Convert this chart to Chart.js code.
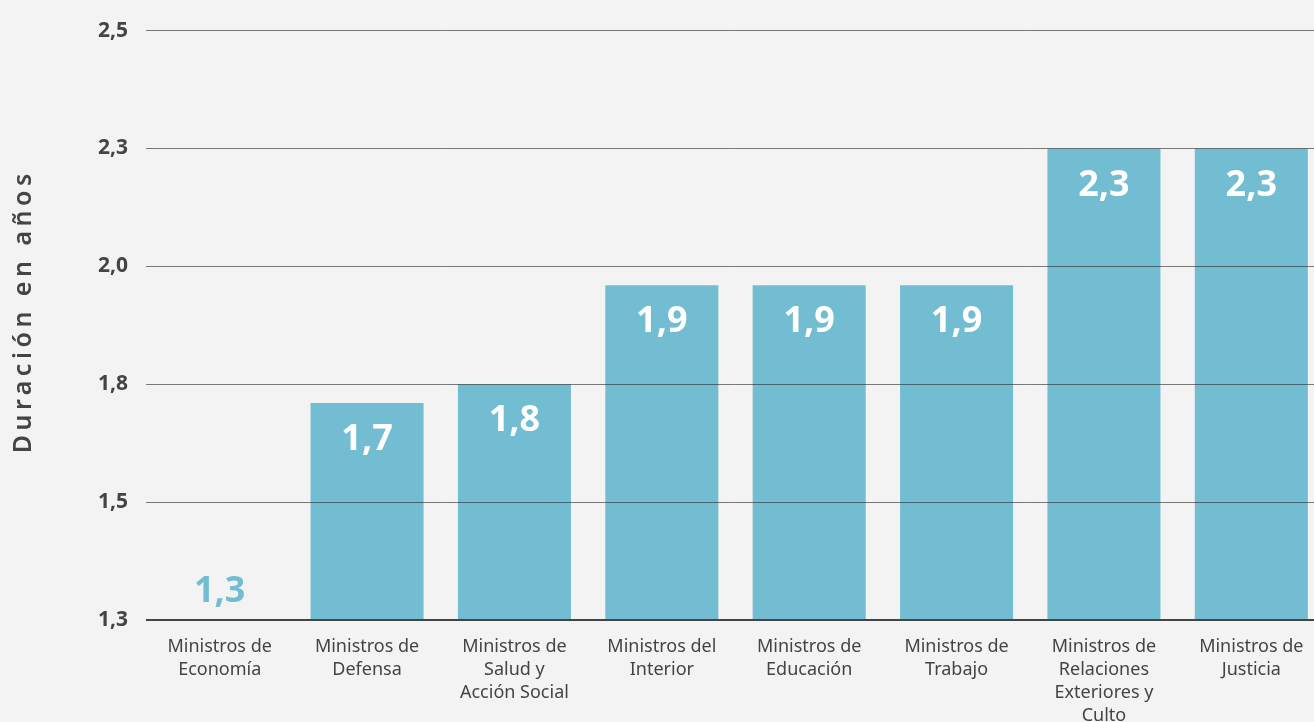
<!DOCTYPE html>
<html>
  <head>
    <title>Duración en años</title>
    <script src="https://cdn.jsdelivr.net/npm/chart.js@4"></script>
    <style>
      html, body {
        margin: 0;
        padding: 0;
        background: #f3f3f3;
        overflow: hidden;
      }
      canvas {
        display: block;
      }
    </style>
  </head>
  <body>
    <canvas id="chart" width="1326" height="722"></canvas>
    <script>
      const categories = [
        ["Ministros de", "Economía"],
        ["Ministros de", "Defensa"],
        ["Ministros de", "Salud y", "Acción Social"],
        ["Ministros del", "Interior"],
        ["Ministros de", "Educación"],
        ["Ministros de", "Trabajo"],
        ["Ministros de", "Relaciones", "Exteriores y", "Culto"],
        ["Ministros de", "Justicia"],
      ]
      const values = [1.25, 1.71, 1.75, 1.96, 1.96, 1.96, 2.25, 2.25]
      const valueLabels = ["1,3", "1,7", "1,8", "1,9", "1,9", "1,9", "2,3", "2,3"]
      const yTickLabels = ["1,3", "1,5", "1,8", "2,0", "2,3", "2,5"]
      const yTitle = "Duración en años"

      const barColor = "#72bdd2"
      const textColor = "#444444"

      Chart.defaults.font.family = "'Noto Sans', sans-serif"
      Chart.defaults.color = textColor

      // value labels inside the top of each bar, or above the axis when the bar is empty
      const valueLabelsPlugin = {
        id: "valueLabels",
        afterDraw(chart) {
          const ctx = chart.ctx
          const yScale = chart.scales.y
          const meta = chart.getDatasetMeta(0)
          ctx.save()
          ctx.font = "bold 36px 'Noto Sans', sans-serif"
          ctx.textAlign = "center"
          ctx.textBaseline = "middle"
          meta.data.forEach((bar, i) => {
            const empty = values[i] <= yScale.min
            ctx.fillStyle = empty ? barColor : "#ffffff"
            ctx.fillText(valueLabels[i], bar.x, empty ? yScale.bottom - 28 : bar.y + 37)
          })
          ctx.restore()
        }
      }

      // rotated y title with letter spacing
      const yTitlePlugin = {
        id: "yTitle",
        afterDraw(chart) {
          const ctx = chart.ctx
          const area = chart.chartArea
          ctx.save()
          ctx.translate(24, (area.top + area.bottom) / 2)
          ctx.rotate(-Math.PI / 2)
          ctx.font = "600 25px 'Noto Sans', sans-serif"
          ctx.letterSpacing = "4.5px"
          ctx.fillStyle = textColor
          ctx.textAlign = "center"
          ctx.textBaseline = "middle"
          ctx.fillText(yTitle, 14, 0)
          ctx.restore()
        }
      }

      new Chart(document.getElementById("chart"), {
        type: "bar",
        data: {
          labels: categories,
          datasets: [
            {
              data: values,
              backgroundColor: barColor,
              barPercentage: 0.767,
              categoryPercentage: 1,
            },
          ],
        },
        options: {
          responsive: false,
          animation: false,
          layout: {
            padding: { top: 26, right: 1, left: 0, bottom: 0 },
          },
          plugins: {
            legend: { display: false },
            tooltip: { enabled: false },
          },
          scales: {
            x: {
              grid: { display: false },
              border: { display: false },
              ticks: {
                color: textColor,
                font: { size: 18, lineHeight: 1.28 },
                padding: 7,
                maxRotation: 0,
                autoSkip: false,
              },
              afterFit(scale) {
                scale.height = 102
              },
            },
            y: {
              min: 1.25,
              max: 2.5,
              border: { display: false },
              grid: {
                z: 1,
                drawTicks: false,
                color: c => c.index === 0 ? "#444444" : "rgba(40,40,40,0.6)",
                lineWidth: c => c.index === 0 ? 2 : 1,
              },
              ticks: {
                stepSize: 0.25,
                padding: 18,
                color: textColor,
                font: { size: 21, weight: "bold" },
                callback: (value, index) => yTickLabels[index],
              },
              afterFit(scale) {
                scale.width = 146
              },
            },
          },
        },
        plugins: [valueLabelsPlugin, yTitlePlugin],
      })
    </script>
  </body>
</html>
